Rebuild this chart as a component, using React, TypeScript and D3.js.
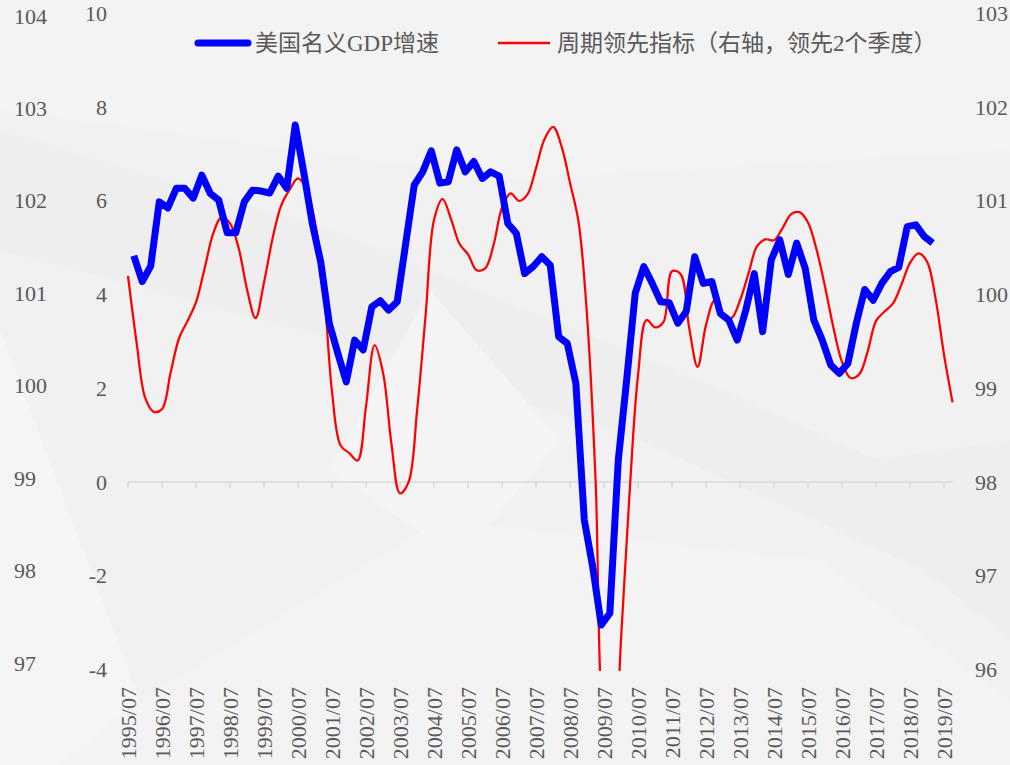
import React from 'react'
import * as d3 from 'd3'

// 美国名义GDP增速 (%), quarterly, 1995Q3 - 2019Q1
const gdpGrowth = [
  4.83, 4.28, 4.61, 5.98, 5.85, 6.27, 6.27, 6.06, 6.55, 6.16,
  6.02, 5.32, 5.32, 5.98, 6.23, 6.21, 6.17, 6.53, 6.27, 7.62,
  6.60, 5.52, 4.70, 3.39, 2.75, 2.14, 3.03, 2.82, 3.74, 3.87,
  3.67, 3.85, 5.10, 6.34, 6.62, 7.07, 6.38, 6.41, 7.09, 6.62,
  6.84, 6.48, 6.62, 6.53, 5.52, 5.31, 4.45, 4.60, 4.81, 4.63,
  3.10, 2.96, 2.11, -0.81, -1.81, -3.05, -2.80, 0.47, 2.18, 4.03,
  4.60, 4.24, 3.85, 3.83, 3.39, 3.64, 4.81, 4.24, 4.28, 3.60,
  3.46, 3.03, 3.67, 4.45, 3.21, 4.74, 5.17, 4.43, 5.10, 4.56,
  3.46, 3.03, 2.50, 2.32, 2.53, 3.39, 4.11, 3.88, 4.24, 4.49,
  4.58, 5.45, 5.49, 5.24, 5.10,
]

// 周期领先指标 (right axis, shifted 2 quarters ahead), 1995/07 - 2019/10
const leadingIndex = [
  100.20, 99.49, 98.90, 98.75, 98.78, 99.17, 99.54, 99.72, 99.92, 100.28,
  100.65, 100.83, 100.76, 100.50, 100.05, 99.75, 100.13, 100.60, 100.95, 101.12,
  101.24, 101.12, 100.76, 100.10, 98.96, 98.39, 98.31, 98.23, 98.81, 99.46,
  99.16, 98.40, 97.88, 98.00, 98.77, 99.78, 100.80, 101.02, 100.80, 100.54,
  100.43, 100.26, 100.28, 100.53, 100.93, 101.08, 101.00, 101.07, 101.35, 101.66,
  101.79, 101.58, 101.19, 100.77, 99.75, 98.02, 95.26, 94.90, 96.35, 97.88,
  99.14, 99.73, 99.65, 99.71, 100.25, 100.22, 99.65, 99.23, 99.68, 99.94,
  99.75, 99.75, 99.94, 100.23, 100.52, 100.59, 100.58, 100.71, 100.86, 100.88,
  100.77, 100.48, 100.08, 99.64, 99.28, 99.11, 99.15, 99.39, 99.72, 99.82,
  99.91, 100.11, 100.34, 100.44, 100.35, 99.96, 99.36, 98.85,
]

const xTickLabels = [
  '1995/07', '1996/07', '1997/07', '1998/07', '1999/07', '2000/07', '2001/07',
  '2002/07', '2003/07', '2004/07', '2005/07', '2006/07', '2007/07', '2008/07',
  '2009/07', '2010/07', '2011/07', '2012/07', '2013/07', '2014/07', '2015/07',
  '2016/07', '2017/07', '2018/07', '2019/07',
]
const leftTicks = [10, 8, 6, 4, 2, 0, -2, -4]
const outerTicks = [104, 103, 102, 101, 100, 99, 98, 97]
const rightTicks = [103, 102, 101, 100, 99, 98, 97, 96]

const seriesNames = ['美国名义GDP增速', '周期领先指标（右轴，领先2个季度）']

const W = 1010
const H = 765
const font = '"Liberation Serif", "Times New Roman", "Noto Sans CJK SC", serif'
const textColor = '#595959'

const parseMonth = d3.timeParse('%Y/%m')
const gdpDates = gdpGrowth.map((_, i) => d3.timeMonth.offset(new Date(1995, 8, 1), i * 3))
const leadDates = leadingIndex.map((_, i) => d3.timeMonth.offset(new Date(1995, 6, 1), i * 3))
const tickDates = xTickLabels.map(s => parseMonth(s) as Date)

export default function App () {
  const x = d3.scaleTime()
    .domain([tickDates[0], tickDates[tickDates.length - 1]])
    .range([128, 944])
  const yLeft = d3.scaleLinear().domain([-4, 10]).range([669.5, 13.5])
  const yRight = d3.scaleLinear().domain([96, 103]).range([669.5, 13.5])
  const yOuter = d3.scaleLinear().domain([97, 104]).range([663, 16])

  const gdpLine = d3.line<number>()
    .x((_, i) => x(gdpDates[i]))
    .y(d => yLeft(d))
  const leadLine = d3.line<number>()
    .x((_, i) => x(leadDates[i]))
    .y(d => yRight(d))
    .curve(d3.curveCatmullRom.alpha(0.5))

  const axisY = yLeft(0)
  const axisEnd = x(d3.timeMonth.offset(tickDates[tickDates.length - 1], 3))

  return (
    <svg width={W} height={H} viewBox={`0 0 ${W} ${H}`}
      style={{ position: 'absolute', left: 0, top: 0, display: 'block' }}
      fontFamily={font}>
      <defs>
        <clipPath id="plot-clip">
          <rect x={0} y={0} width={W} height={yRight(96) + 1.5} />
        </clipPath>
      </defs>

      {/* faceted grey background, kept faint */}
      <rect width={W} height={H} fill="#f1f1f1" />
      <polygon points="0,0 420,0 1010,0 1010,150 520,180 0,110" fill="#f3f3f3" />
      <polygon points="0,130 330,230 700,380 1010,520 1010,610 640,440 300,330 0,250" fill="#eeeeee" />
      <polygon points="0,330 140,700 60,765 0,765" fill="#f5f5f5" />
      <polygon points="140,700 440,520 820,560 1010,700 1010,765 60,765" fill="#f3f3f3" />
      <polygon points="430,290 560,440 460,560 330,470" fill="#f4f4f4" />
      <polygon points="800,470 1010,440 1010,640" fill="#eeeeee" />

      {/* x axis at zero */}
      <line x1={128} x2={axisEnd} y1={axisY} y2={axisY} stroke="#d9d9d9" strokeWidth={1.5} />
      {tickDates.map((d, i) => (
        <line key={i} x1={x(d)} x2={x(d)} y1={axisY} y2={axisY + 6} stroke="#d9d9d9" strokeWidth={1.5} />
      ))}
      {tickDates.map((d, i) => (
        <text key={i} transform={`translate(${x(d)},687) rotate(-90)`}
          textAnchor="end" dominantBaseline="central" fontSize={22} fill={textColor}>
          {xTickLabels[i]}
        </text>
      ))}

      {/* y axes labels */}
      {outerTicks.map(v => (
        <text key={v} x={14} y={yOuter(v)} dominantBaseline="central" fontSize={22} fill={textColor}>{v}</text>
      ))}
      {leftTicks.map(v => (
        <text key={v} x={107} y={yLeft(v)} textAnchor="end" dominantBaseline="central" fontSize={22} fill={textColor}>{v}</text>
      ))}
      {rightTicks.map(v => (
        <text key={v} x={975} y={yRight(v)} dominantBaseline="central" fontSize={22} fill={textColor}>{v}</text>
      ))}

      {/* series */}
      <g clipPath="url(#plot-clip)">
        <path d={leadLine(leadingIndex) || ''} fill="none" stroke="#ff0000" strokeWidth={2.25} />
      </g>
      <path d={gdpLine(gdpGrowth) || ''} fill="none" stroke="#0000ff" strokeWidth={7} strokeLinejoin="round" />

      {/* legend */}
      <line x1={198} x2={248} y1={43} y2={43} stroke="#0000ff" strokeWidth={7} strokeLinecap="round" />
      <text x={255} y={43} dominantBaseline="central" fontSize={23} fill={textColor}>{seriesNames[0]}</text>
      <line x1={498} x2={550} y1={43} y2={43} stroke="#ff0000" strokeWidth={2.5} />
      <text x={557} y={43} dominantBaseline="central" fontSize={23} fill={textColor}>{seriesNames[1]}</text>
    </svg>
  )
}
